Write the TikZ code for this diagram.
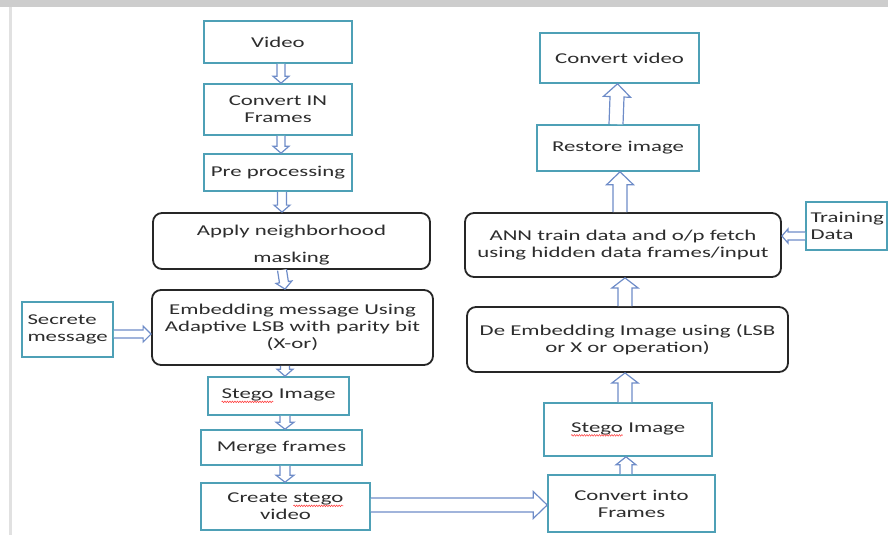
\documentclass[tikz,border=0pt]{standalone}
\usepackage{fontspec}
\setmainfont{Carlito}[FakeStretch=1.52]
\usetikzlibrary{calc,decorations.pathmorphing}
\definecolor{boxblue}{RGB}{78,160,182}
\definecolor{arrblue}{RGB}{110,140,200}
\definecolor{txt}{RGB}{45,45,45}
\definecolor{band}{RGB}{205,205,205}
\newcommand\redwave[1]{\tikz[baseline=(w.base),x=1pt,y=1pt]{\node[inner sep=0pt,outer sep=0pt,
    minimum width=0pt, minimum height=0pt, draw=none, fill=none, rounded corners=0pt, text=txt] (w) {#1};
  \draw[draw=red!80, line width=0.5pt, decorate, decoration={snake, amplitude=0.8pt, segment length=2.5pt}]
    ([yshift=-3pt]w.base west) -- ([yshift=-3pt]w.base east);}}
\tikzset{
  bbox/.style={draw=boxblue, line width=1.6pt, fill=white, text=txt, align=center, inner sep=2pt,
    font=\fontsize{15}{17}\selectfont},
  rbox/.style={draw=black!85, line width=1.8pt, rounded corners=9pt, fill=white, text=txt, align=center,
    inner sep=2pt, font=\fontsize{15}{17}\selectfont},
  lbox/.style={bbox, align=left, text width=#1, inner sep=4pt},
  harrow/.style={draw=arrblue, line width=1.2pt, fill=white, line join=miter},
}
% hollow block arrow: from #1 to #2, half shaft #3, half head #4, head length #5
\newcommand\hollowarrow[5]{%
  \path coordinate (ha) at (#1) coordinate (hb) at (#2)
    coordinate (hc) at ($(hb)!#5!(ha)$);
  \filldraw[harrow]
    ($(ha)!#3!90:(hb)$) -- ($(hc)!#3!-90:(ha)$) -- ($(hc)!#4!-90:(ha)$) -- (hb)
    -- ($(hc)!#4!90:(ha)$) -- ($(hc)!#3!90:(ha)$) -- ($(ha)!#3!-90:(hb)$);
}
\begin{document}
\begin{tikzpicture}[x=1pt,y=-1pt]
\useasboundingbox (0,0) rectangle (888,535);
\fill[band] (0,0) rectangle (888,7);
\fill[band!60] (9,7) rectangle (12,535);
% left column
\node[bbox, minimum width=148pt, minimum height=42pt] (video) at (278,42) {Video};
\node[bbox, minimum width=148pt, minimum height=51pt] (conv) at (278,109.5) {Convert IN\\Frames};
\node[bbox, minimum width=148pt, minimum height=37pt] (pre) at (278,172.5) {Pre processing};
\node[rbox, minimum width=277pt, minimum height=56pt] (apply) at (291.5,241) {};
\node[text=txt, align=center, font=\fontsize{15}{27}\selectfont] (applyt) at (291.5,245) {Apply neighborhood\\masking};
\node[rbox, minimum width=281pt, minimum height=75pt] (embed) at (292.5,327.5) {Embedding message Using\\Adaptive LSB with parity bit\\(X-or)};
\node[lbox=80pt, minimum width=91pt, minimum height=55pt] (secret) at (67.5,329.5) {Secrete\\message};
\node[bbox, minimum width=141pt, minimum height=38pt] (stegoA) at (278.5,396) {\redwave{Stego} Image};
\node[bbox, minimum width=161pt, minimum height=35pt] (merge) at (281.5,447.5) {Merge frames};
\node[bbox, minimum width=169pt, minimum height=47pt] (create) at (285.5,506.5) {Create \redwave{stego}\\video};
% right column
\node[bbox, minimum width=159pt, minimum height=50pt] (cvideo) at (619.5,58) {Convert video};
\node[bbox, minimum width=162pt, minimum height=46pt] (restore) at (618,148) {Restore image};
\node[rbox, minimum width=316pt, minimum height=64pt] (ann) at (623,245) {ANN train data and o/p fetch\\using hidden data frames/input};
\node[lbox=72pt, minimum width=81pt, minimum height=48pt] (train) at (846.5,226) {Training\\Data};
\node[rbox, minimum width=321pt, minimum height=65pt] (deemb) at (627.5,339.5) {De Embedding Image using (LSB\\or X or operation)};
\node[bbox, minimum width=168pt, minimum height=53pt] (stegoB) at (628,429.5) {\redwave{Stego} Image};
\node[bbox, minimum width=167pt, minimum height=57pt] (convinto) at (631.5,503.5) {Convert into\\Frames};
% left arrows (down)
\hollowarrow{[xshift=3pt]video.south}{[xshift=3pt]conv.north}{4pt}{8pt}{7pt}
\hollowarrow{[xshift=3pt]conv.south}{[xshift=3pt]pre.north}{4pt}{8pt}{7pt}
\hollowarrow{[xshift=4pt]pre.south}{[xshift=-9.5pt]apply.north}{4.5pt}{8pt}{7pt}
\hollowarrow{[xshift=-9.5pt]apply.south}{[xshift=-7.5pt]embed.north}{4.5pt}{8pt}{7pt}
\hollowarrow{[xshift=-7.5pt]embed.south}{[xshift=6.5pt]stegoA.north}{4.5pt}{8pt}{7pt}
\hollowarrow{[xshift=6.5pt]stegoA.south}{[xshift=3.5pt]merge.north}{5pt}{9pt}{7pt}
\hollowarrow{[xshift=3.5pt]merge.south}{[xshift=-0.5pt]create.north}{5pt}{9pt}{7pt}
\hollowarrow{secret.east |- 0,334}{embed.west |- 0,334}{4pt}{8pt}{8pt}
% right arrows (up)
\hollowarrow{[xshift=-2pt]restore.north}{[xshift=-2pt]cvideo.south}{7pt}{13.5pt}{13pt}
\hollowarrow{[xshift=-3pt]ann.north}{[xshift=2pt]restore.south}{7pt}{13.5pt}{13pt}
\hollowarrow{[xshift=-2.5pt]deemb.north}{[xshift=2pt]ann.south}{7pt}{13pt}{10pt}
\hollowarrow{[xshift=-3pt]stegoB.north}{[xshift=-2.5pt]deemb.south}{7pt}{13pt}{10pt}
\hollowarrow{[xshift=-5.5pt]convinto.north}{[xshift=-2pt]stegoB.south}{6pt}{10pt}{8pt}
\hollowarrow{train.west |- 0,236}{ann.east |- 0,236}{4pt}{7pt}{6pt}
\hollowarrow{create.east |- 0,505}{convinto.west |- 0,505}{7pt}{13.5pt}{14pt}
\end{tikzpicture}
\end{document}
